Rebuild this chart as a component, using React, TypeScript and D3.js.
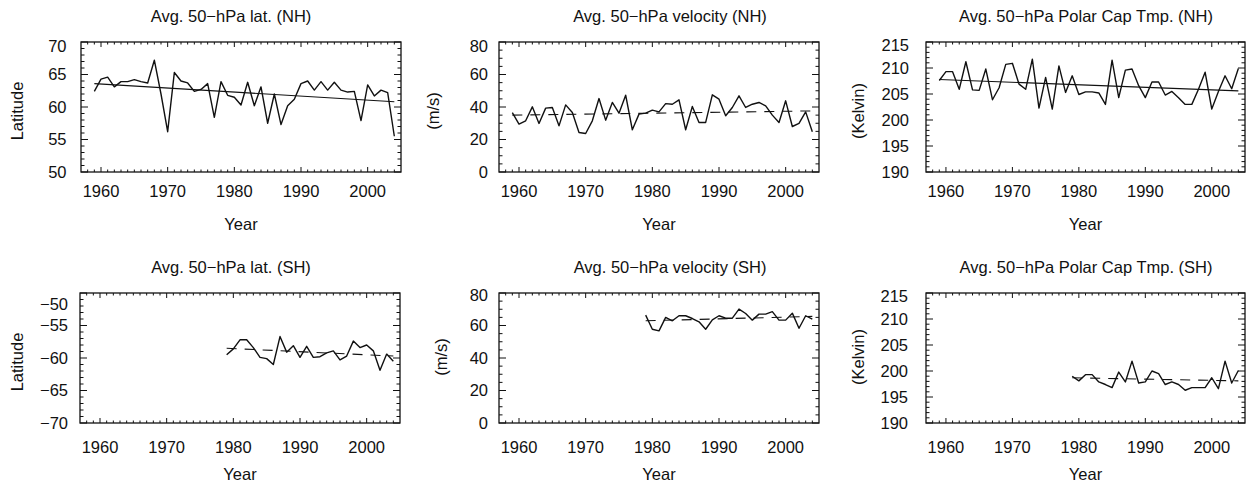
import * as d3 from 'd3';

// first year of each record
const NH_START = 1959;
const SH_START = 1979;

const yearTicks = [1960, 1970, 1980, 1990, 2000];
const latNHTicks = [50, 55, 60, 65, 70];
const latSHTicks = [-70, -65, -60, -55, -50];
const velTicks = [0, 20, 40, 60, 80];
const tmpTicks = [190, 195, 200, 205, 210, 215];

const latNH = [62.4, 64.3, 64.6, 63.1, 63.9, 63.9, 64.2, 63.9, 63.7, 67.2, 62.0, 56.2, 65.3, 64.0, 63.7, 62.4,
  62.7, 63.6, 58.4, 63.9, 61.8, 61.5, 60.3, 63.8, 60.2, 63.1, 57.5, 62.0, 57.3, 60.2, 61.2, 63.6, 64.0, 62.6,
  63.9, 62.6, 63.8, 62.6, 62.3, 62.4, 57.9, 63.4, 61.7, 62.6, 62.2, 55.5];
const velNH = [36.6, 29.5, 31.5, 40.1, 29.9, 39.3, 39.7, 28.4, 41.3, 36.6, 24.3, 23.7, 31.5, 45.2, 31.9, 42.8,
  36.2, 47.3, 26.0, 35.6, 36.2, 38.1, 37.0, 42.1, 41.7, 44.4, 26.0, 40.3, 30.5, 30.5, 47.5, 44.8, 34.6, 39.7,
  46.9, 39.7, 41.7, 42.8, 40.7, 35.0, 30.5, 43.8, 28.0, 29.9, 37.0, 24.8];
const tmpNH = [207.6, 209.3, 209.3, 205.9, 211.2, 205.8, 205.7, 209.8, 203.9, 206.2, 210.7, 210.9, 206.9, 205.9,
  211.7, 202.3, 208.2, 202.1, 210.4, 205.3, 208.5, 204.9, 205.4, 205.4, 205.2, 203.0, 211.5, 204.3, 209.6, 209.8,
  206.6, 204.3, 207.3, 207.3, 204.8, 205.5, 204.3, 203.0, 203.0, 205.9, 209.2, 202.1, 205.5, 208.5, 206.0, 209.9];
const latSH = [-59.5, -58.6, -57.2, -57.2, -58.4, -59.9, -60.1, -61.0, -56.7, -59.1, -58.1, -59.9, -58.2, -59.9,
  -59.8, -59.2, -58.9, -60.3, -59.7, -57.4, -58.4, -58.0, -58.9, -61.9, -59.4, -60.5];
const velSH = [66.4, 57.7, 56.7, 65.0, 62.9, 66.0, 66.0, 64.3, 62.3, 57.7, 63.5, 66.0, 64.5, 64.5, 70.1, 67.4,
  63.3, 67.0, 67.0, 68.5, 63.3, 63.3, 67.6, 58.3, 66.0, 63.9];
const tmpSH = [199.0, 198.1, 199.3, 199.3, 197.9, 197.4, 196.8, 199.8, 197.9, 201.9, 197.7, 197.9, 200.0, 199.5,
  197.4, 197.9, 197.4, 196.3, 196.8, 196.8, 196.8, 198.7, 196.6, 201.9, 197.7, 200.1];

// linear trend, value at first and last year
const latNHTrend = [63.6, 60.8];
const velNHTrend = [35.0, 37.6];
const tmpNHTrend = [207.8, 205.6];
const latSHTrend = [-58.5, -59.7];
const velSHTrend = [62.9, 65.6];
const tmpSHTrend = [198.7, 198.1];

const FONT = '"Liberation Sans", Arial, Helvetica, sans-serif';
const FS = 16.5;
const ink = '#111';
const fmt = (v) => String(v).replace('-', '\u2212');

const panels = [
  { title: 'Avg. 50\u2212hPa lat. (NH)', ylab: 'Latitude', data: latNH, start: NH_START, trend: latNHTrend, dashed: false,
    yTicks: latNHTicks, minor: 1, box: [81, 401, 42, 172], titleX: 231, titleY: 22, tickLabY: 196.5, yearY: 230,
    labRight: 66.5, ylabX: 23, ylabY: 111, topShift: 4 },
  { title: 'Avg. 50\u2212hPa velocity (NH)', ylab: '(m/s)', data: velNH, start: NH_START, trend: velNHTrend, dashed: true,
    yTicks: velTicks, minor: 5, box: [499, 819, 42, 172], titleX: 670, titleY: 22, tickLabY: 196.5, yearY: 230,
    labRight: 488, ylabX: 439, ylabY: 111, topShift: 4 },
  { title: 'Avg. 50\u2212hPa Polar Cap Tmp. (NH)', ylab: '(Kelvin)', data: tmpNH, start: NH_START, trend: tmpNHTrend, dashed: false,
    yTicks: tmpTicks, minor: 1, box: [926, 1245, 42, 172], titleX: 1086, titleY: 22, tickLabY: 196.5, yearY: 230,
    labRight: 909, ylabX: 864, ylabY: 111, topShift: 3 },
  { title: 'Avg. 50\u2212hPa lat. (SH)', ylab: 'Latitude', data: latSH, start: SH_START, trend: latSHTrend, dashed: true,
    yTicks: latSHTicks, minor: 1, box: [80, 400, 293, 423], titleX: 231, titleY: 272.5, tickLabY: 453, yearY: 480,
    labRight: 68, ylabX: 23, ylabY: 362, topShift: 11 },
  { title: 'Avg. 50\u2212hPa velocity (SH)', ylab: '(m/s)', data: velSH, start: SH_START, trend: velSHTrend, dashed: true,
    yTicks: velTicks, minor: 5, box: [499, 819, 293, 423], titleX: 670, titleY: 272.5, tickLabY: 453, yearY: 480,
    labRight: 488, ylabX: 447, ylabY: 357, topShift: 2 },
  { title: 'Avg. 50\u2212hPa Polar Cap Tmp. (SH)', ylab: '(Kelvin)', data: tmpSH, start: SH_START, trend: tmpSHTrend, dashed: true,
    yTicks: tmpTicks, minor: 1, box: [926, 1245, 293, 423], titleX: 1086, titleY: 272.5, tickLabY: 453, yearY: 480,
    labRight: 908, ylabX: 864, ylabY: 357, topShift: 3 },
];

function Panel({ p }) {
  const [x0, x1, y0, y1] = p.box;
  const x = d3.scaleLinear().domain([1957, 2005]).range([x0, x1]);
  const yMin = d3.min(p.yTicks), yMax = d3.max(p.yTicks);
  const y = d3.scaleLinear().domain([yMin, yMax]).range([y1, y0]);

  const line = d3.line().x((d, i) => x(p.start + i)).y((d) => y(d));
  const lastYear = p.start + p.data.length - 1;

  const xMinor = d3.range(1958, 2005, 1).filter((v) => v % 10 !== 0);
  const yMinor = d3.range(yMin + p.minor, yMax, p.minor).filter((v) => !p.yTicks.includes(v));

  const ticks = [];
  yearTicks.forEach((v) => {
    ticks.push(`M${x(v)},${y1}v-5M${x(v)},${y0}v5`);
  });
  xMinor.forEach((v) => {
    ticks.push(`M${x(v)},${y1}v-2.5M${x(v)},${y0}v2.5`);
  });
  p.yTicks.forEach((v) => {
    ticks.push(`M${x0},${y(v)}h7M${x1},${y(v)}h-7`);
  });
  yMinor.forEach((v) => {
    ticks.push(`M${x0},${y(v)}h3.5M${x1},${y(v)}h-3.5`);
  });

  return (
    <g fontFamily={FONT} fontSize={FS} fill={ink}>
      <text x={p.titleX} y={p.titleY} textAnchor="middle">{p.title}</text>
      <path d={ticks.join('')} stroke={ink} strokeWidth={1} fill="none" />
      <path d={line(p.data)} stroke={ink} strokeWidth={1.4} fill="none" strokeLinejoin="round" />
      <line x1={x(p.start)} x2={x(lastYear)} y1={y(p.trend[0])} y2={y(p.trend[1])}
        stroke={ink} strokeWidth={1.1} strokeDasharray={p.dashed ? '10,8' : null} />
      <rect x={x0} y={y0} width={x1 - x0} height={y1 - y0} fill="none" stroke={ink} strokeWidth={1.3} />
      {p.yTicks.map((v) => (
        <text key={v} x={p.labRight} y={y(v) + (v === yMax ? p.topShift : 0)} dy="0.36em" textAnchor="end">{fmt(v)}</text>
      ))}
      {yearTicks.map((v) => (
        <text key={v} x={x(v)} y={p.tickLabY} textAnchor="middle">{v}</text>
      ))}
      <text x={(x0 + x1) / 2} y={p.yearY} textAnchor="middle">Year</text>
      <text transform={`translate(${p.ylabX},${p.ylabY}) rotate(-90)`} textAnchor="middle">{p.ylab}</text>
    </g>
  );
}

export default function App() {
  return (
    <svg width={1251} height={485} style={{ position: 'absolute', left: 0, top: 0, background: '#fff' }}>
      <rect width={1251} height={485} fill="#fff" />
      {panels.map((p, i) => <Panel key={i} p={p} />)}
    </svg>
  );
}
